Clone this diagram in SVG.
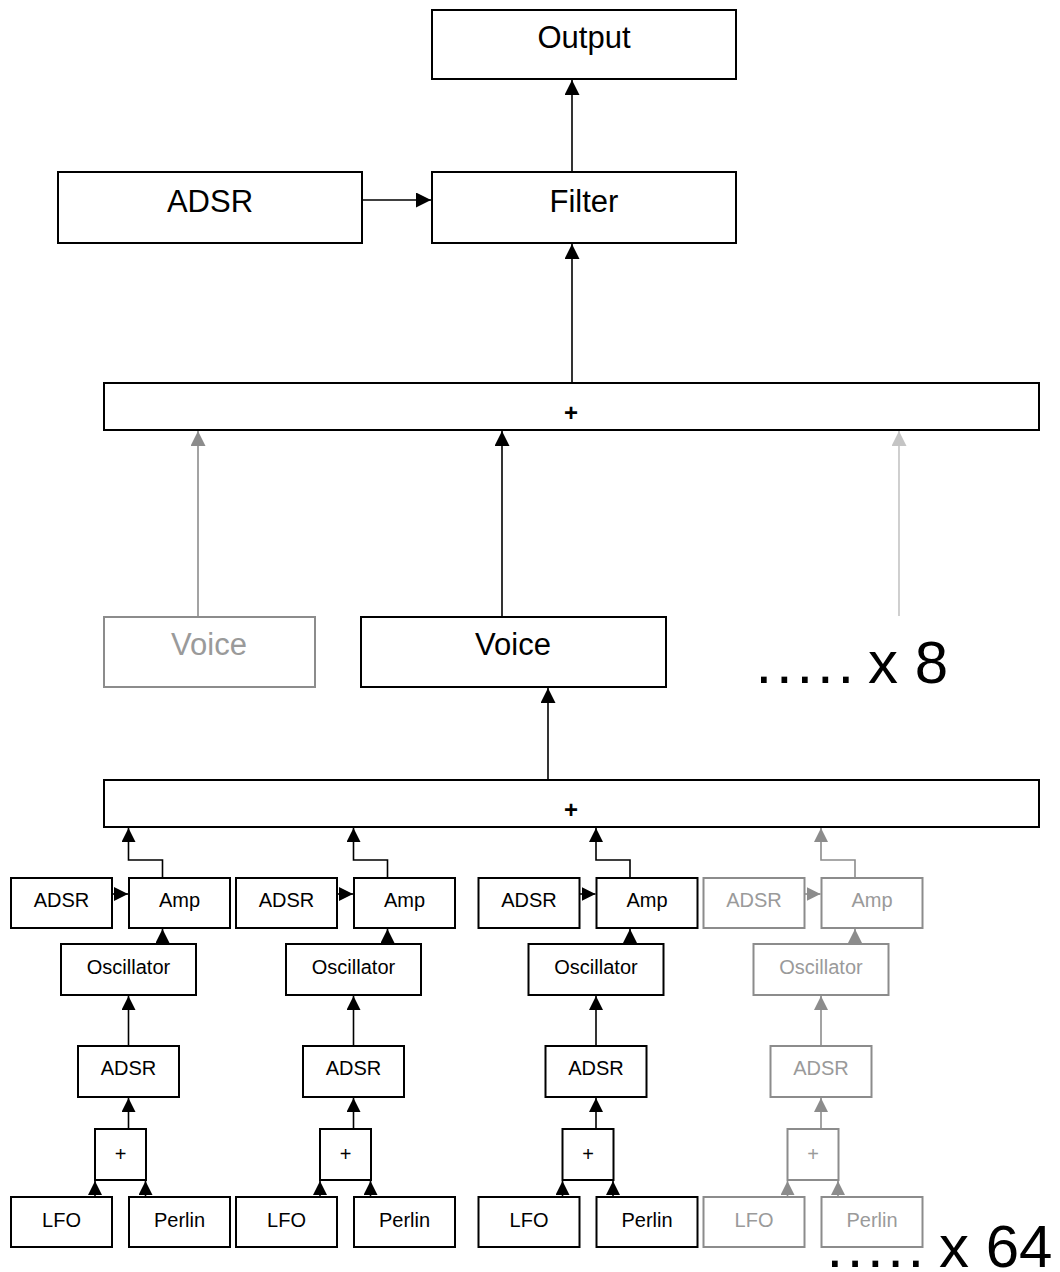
<svg xmlns="http://www.w3.org/2000/svg" width="1060" height="1272" viewBox="0 0 1060 1272">
<style>
  text { font-family: "Liberation Sans", Arial, sans-serif; text-anchor: middle; fill: #000; }
  .box { fill: #fff; stroke: #000; stroke-width: 2; }
  .big { font-size: 31px; }
  .sm { font-size: 20px; }
  .plus { font-size: 24px; font-weight: bold; }
  .ln { fill: none; stroke: #000; stroke-width: 1.6; }
  .g .box { stroke: #8c8c8c; }
  .g text { fill: #9a9a9a; }
  .gl { fill: none; stroke: #8c8c8c; stroke-width: 1.6; }
  .ll { fill: none; stroke: #c4c4c4; stroke-width: 1.6; }
  .note { font-size: 60px; text-anchor: start; }
</style>
<defs>
  <marker id="ab" markerUnits="userSpaceOnUse" markerWidth="15" markerHeight="15" refX="15" refY="7.5" orient="auto"><path d="M0,0 L15,7.5 L0,15 z" fill="#000"/></marker>
  <marker id="as" markerUnits="userSpaceOnUse" markerWidth="14" markerHeight="14" refX="14" refY="7" orient="auto"><path d="M0,0 L14,7 L0,14 z" fill="#000"/></marker>
  <marker id="gb" markerUnits="userSpaceOnUse" markerWidth="15" markerHeight="15" refX="15" refY="7.5" orient="auto"><path d="M0,0 L15,7.5 L0,15 z" fill="#8c8c8c"/></marker>
  <marker id="gs" markerUnits="userSpaceOnUse" markerWidth="14" markerHeight="14" refX="14" refY="7" orient="auto"><path d="M0,0 L14,7 L0,14 z" fill="#8c8c8c"/></marker>
  <marker id="lb" markerUnits="userSpaceOnUse" markerWidth="15" markerHeight="15" refX="15" refY="7.5" orient="auto"><path d="M0,0 L15,7.5 L0,15 z" fill="#c4c4c4"/></marker>
</defs>

<g id="connectors">
  <path class="ln" d="M572,172 V80" marker-end="url(#ab)"/>
  <path class="ln" d="M362,200 H431" marker-end="url(#ab)"/>
  <path class="ln" d="M572,383 V244" marker-end="url(#ab)"/>
  <path class="gl" d="M198,616 V431" marker-end="url(#gb)"/>
  <path class="ln" d="M502,616 V431" marker-end="url(#ab)"/>
  <path class="ll" d="M899,616 V431" marker-end="url(#lb)"/>
  <path class="ln" d="M548,780 V688" marker-end="url(#ab)"/>
  <g id="col1-links">
    <path class="ln" d="M162.5,878 V860 H128.5 V828" marker-end="url(#as)"/>
    <path class="ln" d="M112,894 H128" marker-end="url(#as)"/>
    <path class="ln" d="M162.5,944 V929" marker-end="url(#as)"/>
    <path class="ln" d="M128.5,1046 V996" marker-end="url(#as)"/>
    <path class="ln" d="M128.5,1129 V1098" marker-end="url(#as)"/>
    <path class="ln" d="M95,1197 V1181" marker-end="url(#as)"/>
    <path class="ln" d="M145.5,1197 V1181" marker-end="url(#as)"/>
  </g>
  <g id="col2-links" transform="translate(225,0)">
    <path class="ln" d="M162.5,878 V860 H128.5 V828" marker-end="url(#as)"/>
    <path class="ln" d="M112,894 H128" marker-end="url(#as)"/>
    <path class="ln" d="M162.5,944 V929" marker-end="url(#as)"/>
    <path class="ln" d="M128.5,1046 V996" marker-end="url(#as)"/>
    <path class="ln" d="M128.5,1129 V1098" marker-end="url(#as)"/>
    <path class="ln" d="M95,1197 V1181" marker-end="url(#as)"/>
    <path class="ln" d="M145.5,1197 V1181" marker-end="url(#as)"/>
  </g>
  <g id="col3-links" transform="translate(467.5,0)">
    <path class="ln" d="M162.5,878 V860 H128.5 V828" marker-end="url(#as)"/>
    <path class="ln" d="M112,894 H128" marker-end="url(#as)"/>
    <path class="ln" d="M162.5,944 V929" marker-end="url(#as)"/>
    <path class="ln" d="M128.5,1046 V996" marker-end="url(#as)"/>
    <path class="ln" d="M128.5,1129 V1098" marker-end="url(#as)"/>
    <path class="ln" d="M95,1197 V1181" marker-end="url(#as)"/>
    <path class="ln" d="M145.5,1197 V1181" marker-end="url(#as)"/>
  </g>
  <g id="col4-links" transform="translate(692.5,0)">
    <path class="gl" d="M162.5,878 V860 H128.5 V828" marker-end="url(#gs)"/>
    <path class="gl" d="M112,894 H128" marker-end="url(#gs)"/>
    <path class="gl" d="M162.5,944 V929" marker-end="url(#gs)"/>
    <path class="gl" d="M128.5,1046 V996" marker-end="url(#gs)"/>
    <path class="gl" d="M128.5,1129 V1098" marker-end="url(#gs)"/>
    <path class="gl" d="M95,1197 V1181" marker-end="url(#gs)"/>
    <path class="gl" d="M145.5,1197 V1181" marker-end="url(#gs)"/>
  </g>
</g>

<g id="output"><rect class="box" x="432" y="10" width="304" height="69"/><text class="big" x="584" y="48">Output</text></g>
<g id="filter"><rect class="box" x="432" y="172" width="304" height="71"/><text class="big" x="584" y="212">Filter</text></g>
<g id="adsr-filter"><rect class="box" x="58" y="172" width="304" height="71"/><text class="big" x="210" y="212">ADSR</text></g>
<g id="voice-sum"><rect class="box" x="104" y="383" width="935" height="47"/><text class="plus" x="571" y="421">+</text></g>
<g id="voice-ghost" class="g"><rect class="box" x="104" y="617" width="211" height="70"/><text class="big" x="209" y="655">Voice</text></g>
<g id="voice"><rect class="box" x="361" y="617" width="305" height="70"/><text class="big" x="513" y="655">Voice</text></g>
<g id="voices-note"><text class="note" x="755.5" y="683"><tspan letter-spacing="3.8">.....</tspan><tspan x="868">x 8</tspan></text></g>
<g id="osc-sum"><rect class="box" x="104" y="780" width="935" height="47"/><text class="plus" x="571" y="818">+</text></g>

<g id="col1">
  <g id="c1-adsr-amp"><rect class="box" x="11" y="878" width="101" height="50"/><text class="sm" x="61.5" y="907">ADSR</text></g>
  <g id="c1-amp"><rect class="box" x="129" y="878" width="101" height="50"/><text class="sm" x="179.5" y="907">Amp</text></g>
  <g id="c1-osc"><rect class="box" x="61" y="944" width="135" height="51"/><text class="sm" x="128.5" y="974">Oscillator</text></g>
  <g id="c1-adsr"><rect class="box" x="78" y="1046" width="101" height="51"/><text class="sm" x="128.5" y="1075">ADSR</text></g>
  <g id="c1-plus"><rect class="box" x="95" y="1129" width="51" height="51"/><text class="sm" x="120.5" y="1161">+</text></g>
  <g id="c1-lfo"><rect class="box" x="11" y="1197" width="101" height="50"/><text class="sm" x="61.5" y="1227">LFO</text></g>
  <g id="c1-perlin"><rect class="box" x="129" y="1197" width="101" height="50"/><text class="sm" x="179.5" y="1227">Perlin</text></g>
</g>
<g id="col2" transform="translate(225,0)">
  <g id="c2-adsr-amp"><rect class="box" x="11" y="878" width="101" height="50"/><text class="sm" x="61.5" y="907">ADSR</text></g>
  <g id="c2-amp"><rect class="box" x="129" y="878" width="101" height="50"/><text class="sm" x="179.5" y="907">Amp</text></g>
  <g id="c2-osc"><rect class="box" x="61" y="944" width="135" height="51"/><text class="sm" x="128.5" y="974">Oscillator</text></g>
  <g id="c2-adsr"><rect class="box" x="78" y="1046" width="101" height="51"/><text class="sm" x="128.5" y="1075">ADSR</text></g>
  <g id="c2-plus"><rect class="box" x="95" y="1129" width="51" height="51"/><text class="sm" x="120.5" y="1161">+</text></g>
  <g id="c2-lfo"><rect class="box" x="11" y="1197" width="101" height="50"/><text class="sm" x="61.5" y="1227">LFO</text></g>
  <g id="c2-perlin"><rect class="box" x="129" y="1197" width="101" height="50"/><text class="sm" x="179.5" y="1227">Perlin</text></g>
</g>
<g id="col3" transform="translate(467.5,0)">
  <g id="c3-adsr-amp"><rect class="box" x="11" y="878" width="101" height="50"/><text class="sm" x="61.5" y="907">ADSR</text></g>
  <g id="c3-amp"><rect class="box" x="129" y="878" width="101" height="50"/><text class="sm" x="179.5" y="907">Amp</text></g>
  <g id="c3-osc"><rect class="box" x="61" y="944" width="135" height="51"/><text class="sm" x="128.5" y="974">Oscillator</text></g>
  <g id="c3-adsr"><rect class="box" x="78" y="1046" width="101" height="51"/><text class="sm" x="128.5" y="1075">ADSR</text></g>
  <g id="c3-plus"><rect class="box" x="95" y="1129" width="51" height="51"/><text class="sm" x="120.5" y="1161">+</text></g>
  <g id="c3-lfo"><rect class="box" x="11" y="1197" width="101" height="50"/><text class="sm" x="61.5" y="1227">LFO</text></g>
  <g id="c3-perlin"><rect class="box" x="129" y="1197" width="101" height="50"/><text class="sm" x="179.5" y="1227">Perlin</text></g>
</g>
<g id="col4" class="g" transform="translate(692.5,0)">
  <g id="c4-adsr-amp"><rect class="box" x="11" y="878" width="101" height="50"/><text class="sm" x="61.5" y="907">ADSR</text></g>
  <g id="c4-amp"><rect class="box" x="129" y="878" width="101" height="50"/><text class="sm" x="179.5" y="907">Amp</text></g>
  <g id="c4-osc"><rect class="box" x="61" y="944" width="135" height="51"/><text class="sm" x="128.5" y="974">Oscillator</text></g>
  <g id="c4-adsr"><rect class="box" x="78" y="1046" width="101" height="51"/><text class="sm" x="128.5" y="1075">ADSR</text></g>
  <g id="c4-plus"><rect class="box" x="95" y="1129" width="51" height="51"/><text class="sm" x="120.5" y="1161">+</text></g>
  <g id="c4-lfo"><rect class="box" x="11" y="1197" width="101" height="50"/><text class="sm" x="61.5" y="1227">LFO</text></g>
  <g id="c4-perlin"><rect class="box" x="129" y="1197" width="101" height="50"/><text class="sm" x="179.5" y="1227">Perlin</text></g>
</g>
<g id="osc-note"><text class="note" x="826.5" y="1267"><tspan letter-spacing="3.6">.....</tspan><tspan x="939">x 64</tspan></text></g>
</svg>
